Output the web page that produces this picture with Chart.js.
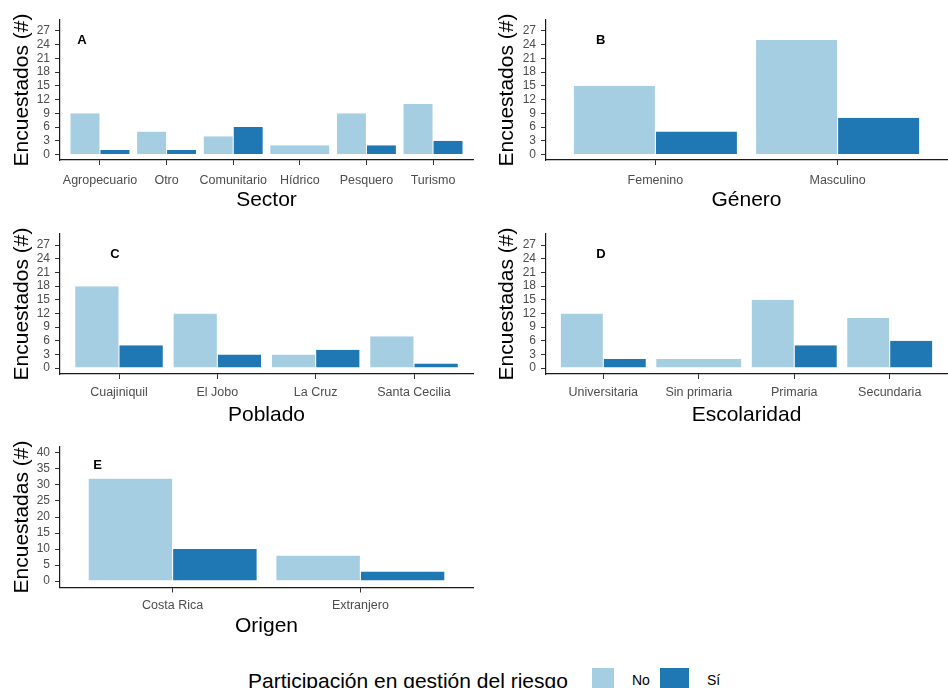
<!DOCTYPE html>
<html>
<head>
<meta charset="utf-8">
<title>Participación en gestión del riesgo</title>
<script src="https://cdn.jsdelivr.net/npm/chart.js@4.4.1/dist/chart.umd.min.js"></script>
<style>
    body { margin: 0; background: #ffffff; }
    #wrap { position: relative; width: 948px; height: 688px; overflow: hidden; font-family: "Liberation Sans", Arial, sans-serif; }
    #wrap canvas { position: absolute; }
    #chartA { left: 0px; top: 0px; }
    #chartB { left: 480px; top: 0px; }
    #chartC { left: 0px; top: 215px; }
    #chartD { left: 480px; top: 215px; }
    #chartE { left: 0px; top: 430px; }
    .lg { position: absolute; white-space: nowrap; color: #000; }
    #lgTitle { left: 248px; top: 670px; font-size: 21px; line-height: 21px; }
    .key { position: absolute; top: 668px; height: 21px; }
    #keyNo { left: 592px; width: 22px; background: #A6CEE3; }
    #keySi { left: 660px; width: 29px; background: #1F78B4; }
    #lgNo { left: 632px; top: 673px; font-size: 14px; line-height: 14px; }
    #lgSi { left: 707px; top: 673px; font-size: 14px; line-height: 14px; }
</style>
</head>
<body>
<div id="wrap">
    <canvas id="chartA" width="480" height="215"></canvas>
    <canvas id="chartB" width="468" height="215"></canvas>
    <canvas id="chartC" width="480" height="215"></canvas>
    <canvas id="chartD" width="468" height="215"></canvas>
    <canvas id="chartE" width="480" height="215"></canvas>
    <div class="lg" id="lgTitle">Participación en gestión del riesgo</div>
    <div class="key" id="keyNo"></div>
    <div class="lg" id="lgNo">No</div>
    <div class="key" id="keySi"></div>
    <div class="lg" id="lgSi">Sí</div>
</div>
<script>

// --------------------------------------------
// Data
// --------------------------------------------

const sectorLabels = ["Agropecuario", "Otro", "Comunitario", "Hídrico", "Pesquero", "Turismo"];
const sectorNo = [9, 5, 4, 2, 9, 11];
const sectorSi = [1, 1, 6, null, 2, 3];

const generoLabels = ["Femenino", "Masculino"];
const generoNo = [15, 25];
const generoSi = [5, 8];

const pobladoLabels = ["Cuajiniquil", "El Jobo", "La Cruz", "Santa Cecilia"];
const pobladoNo = [18, 12, 3, 7];
const pobladoSi = [5, 3, 4, 1];

const escolaridadLabels = ["Universitaria", "Sin primaria", "Primaria", "Secundaria"];
const escolaridadNo = [12, 2, 15, 11];
const escolaridadSi = [2, null, 5, 6];

const origenLabels = ["Costa Rica", "Extranjero"];
const origenNo = [32, 8];
const origenSi = [10, 3];

const ticksSmall = [0, 3, 6, 9, 12, 15, 18, 21, 24, 27];
const ticksLarge = [0, 5, 10, 15, 20, 25, 30, 35, 40];

const seriesNames = ["No", "Sí"];


// --------------------------------------------
// Common Settings
// --------------------------------------------

const LIGHT = "#A6CEE3";
const DARK = "#1F78B4";
const FONT = "'Liberation Sans', Arial, sans-serif";

Chart.defaults.font.family = FONT;
Chart.defaults.animation = false;


// panel letter (A, B, ...) drawn in data coordinates
const panelLetter = {

    id: "panelLetter",

    afterDatasetsDraw(chart, args, opts) {

        const ctx = chart.ctx;

        ctx.save();
        ctx.font = "bold 13px " + FONT;
        ctx.fillStyle = "#000000";
        ctx.textAlign = "center";
        ctx.textBaseline = "middle";
        ctx.fillText(
            opts.text,
            chart.scales.x.getPixelForValue(opts.x),
            chart.scales.y.getPixelForValue(opts.y)
        );
        ctx.restore();

    }

};


// --------------------------------------------
// Build One Panel
// --------------------------------------------

function buildPanel(canvasId, labels, noValues, siValues, yTicks, yRange, texts, box) {

    const n = labels.length;

    const makeData = (values) => labels.map((c, i) => ({ x: i + 1, y: values[i] }));

    const barStyle = {
        borderColor: "rgba(255,255,255,0.6)",
        borderWidth: { top: 0, bottom: 0, left: 0.5, right: 0.5 },
        borderSkipped: false,
        categoryPercentage: 0.9,
        barPercentage: 1,
        skipNull: true
    };

    return new Chart(

        document.getElementById(canvasId),

        {

            type: "bar",

            data: {

                datasets: [

                    Object.assign({
                        label: seriesNames[0],
                        data: makeData(noValues),
                        backgroundColor: LIGHT
                    }, barStyle),

                    Object.assign({
                        label: seriesNames[1],
                        data: makeData(siValues),
                        backgroundColor: DARK
                    }, barStyle)

                ]

            },

            options: {

                responsive: false,

                animation: false,

                layout: {
                    padding: { top: box.top, right: box.width - box.right, bottom: 0, left: 0 }
                },

                plugins: {
                    legend: { display: false },
                    tooltip: { enabled: false },
                    panelLetter: texts.letter
                },

                scales: {

                    x: {
                        type: "linear",
                        min: 0.4,
                        max: n + 0.6,
                        offset: false,
                        afterBuildTicks: (scale) => {
                            scale.ticks = labels.map((c, i) => ({ value: i + 1 }));
                        },
                        afterFit: (scale) => {
                            scale.height = box.height - box.bottom;
                        },
                        ticks: {
                            callback: (value) => labels[value - 1],
                            autoSkip: false,
                            maxRotation: 0,
                            color: "#4D4D4D",
                            font: { size: 12.5, lineHeight: 1 },
                            padding: box.xTickPad
                        },
                        grid: {
                            offset: false,
                            drawOnChartArea: false,
                            tickLength: 5,
                            color: "#333333"
                        },
                        border: { color: "#1a1a1a", width: 1.2 },
                        title: {
                            display: true,
                            text: texts.x,
                            color: "#000000",
                            font: { size: 21, lineHeight: 1 },
                            padding: { top: 0, bottom: box.xTitlePad }
                        }
                    },

                    y: {
                        min: yRange[0],
                        max: yRange[1],
                        afterBuildTicks: (scale) => {
                            scale.ticks = yTicks.map(v => ({ value: v }));
                        },
                        afterFit: (scale) => {
                            scale.width = box.left;
                        },
                        ticks: {
                            autoSkip: false,
                            color: "#4D4D4D",
                            font: { size: 12, lineHeight: 1 },
                            padding: 5
                        },
                        grid: {
                            drawOnChartArea: false,
                            tickLength: 5,
                            color: "#333333"
                        },
                        border: { color: "#1a1a1a", width: 1.2 },
                        title: {
                            display: true,
                            text: texts.y,
                            color: "#000000",
                            font: { size: 21, lineHeight: 1 },
                            padding: { top: box.yTitlePad, bottom: 0 }
                        }
                    }

                }

            },

            plugins: [panelLetter]

        }

    );

}


// --------------------------------------------
// Panels
// --------------------------------------------

buildPanel("chartA", sectorLabels, sectorNo, sectorSi, ticksSmall, [-1.2, 29.35],
    { x: "Sector", y: "Encuestados (#)", letter: { text: "A", x: 0.73, y: 25 } },
    { width: 480, height: 215, left: 60, right: 473, top: 20, bottom: 160, xTickPad: 9, xTitlePad: 4.5, yTitlePad: 12 });

buildPanel("chartB", generoLabels, generoNo, generoSi, ticksSmall, [-1.2, 29.35],
    { x: "Género", y: "Encuestados (#)", letter: { text: "B", x: 0.70, y: 25 } },
    { width: 468, height: 215, left: 66, right: 467, top: 20, bottom: 160, xTickPad: 9, xTitlePad: 4.5, yTitlePad: 17 });

buildPanel("chartC", pobladoLabels, pobladoNo, pobladoSi, ticksSmall, [-1.3, 29.45],
    { x: "Poblado", y: "Encuestados (#)", letter: { text: "C", x: 0.96, y: 25 } },
    { width: 480, height: 215, left: 60, right: 473, top: 19, bottom: 159, xTickPad: 7, xTitlePad: 4.5, yTitlePad: 12 });

buildPanel("chartD", escolaridadLabels, escolaridadNo, escolaridadSi, ticksSmall, [-1.3, 29.45],
    { x: "Escolaridad", y: "Encuestadas (#)", letter: { text: "D", x: 0.975, y: 25 } },
    { width: 468, height: 215, left: 66, right: 467, top: 19, bottom: 159, xTickPad: 7, xTitlePad: 4.5, yTitlePad: 17 });

buildPanel("chartE", origenLabels, origenNo, origenSi, ticksLarge, [-2, 42],
    { x: "Origen", y: "Encuestadas (#)", letter: { text: "E", x: 0.6, y: 36 } },
    { width: 480, height: 215, left: 60, right: 473, top: 16.5, bottom: 157.5, xTickPad: 7, xTitlePad: 7.8, yTitlePad: 12 });

</script>
</body>
</html>
